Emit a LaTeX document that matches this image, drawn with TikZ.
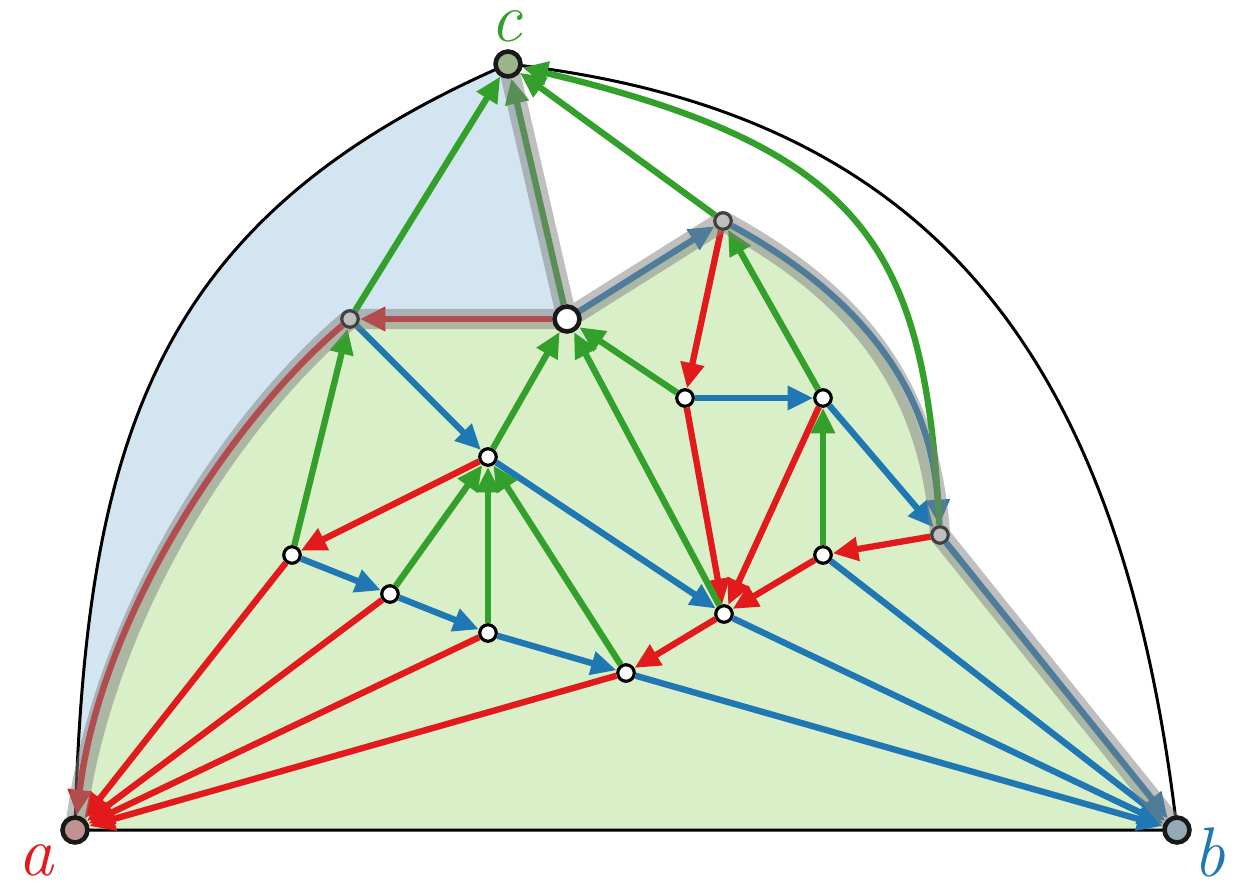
\documentclass[tikz,border=0pt]{standalone}
\usepackage{xcolor}
\usetikzlibrary{arrows.meta,positioning}
\definecolor{cr}{RGB}{227,26,28}
\definecolor{cb}{RGB}{31,120,180}
\definecolor{cg}{RGB}{51,160,44}
\definecolor{fillg}{RGB}{217,239,199}
\definecolor{fillb}{RGB}{210,229,240}
\definecolor{apole}{RGB}{192,146,146}
\definecolor{bpole}{RGB}{148,170,182}
\definecolor{cpole}{RGB}{156,180,138}
\pgfdeclarelayer{back}
\pgfdeclarelayer{shade}
\pgfdeclarelayer{front}
\pgfsetlayers{back,main,shade,front}

\begin{document}
\begin{tikzpicture}[x=0.02cm,y=-0.02cm,>={Triangle[length=14.5pt,width=13pt]},
  vtx/.style={circle,draw=black,fill=white,line width=1.8pt,inner sep=0pt,minimum size=9.4pt},
  pole/.style={circle,draw=black!90,line width=2.6pt,inner sep=0pt,minimum size=14.2pt},
  redarc/.style={draw=cr,line width=3.6pt,->},
  bluearc/.style={draw=cb,line width=3.6pt,->},
  greenarc/.style={draw=cg,line width=3.6pt,->},
  outer/.style={draw=black,line width=1.7pt},
  hl/.style={draw=black!50,opacity=.5,line width=11.5pt,line cap=round,line join=round},
  lbl/.style={font=\fontsize{40}{40}\selectfont\itshape,inner sep=0pt}]
\useasboundingbox (0,0) rectangle (1243,885);

% outer triangle and inner vertices
\begin{pgfonlayer}{front}
\node[pole,fill=apole] (a) at (75,830) {};
\node[pole,fill=bpole] (b) at (1177,830) {};
\node[pole,fill=cpole] (c) at (508,64) {};
\node[pole,fill=white] (v) at (567,319) {};
\end{pgfonlayer}
\node[vtx] (p1) at (350,319) {};
\node[vtx] (p2) at (723,221) {};
\node[vtx] (p3) at (940,535) {};
\node[vtx] (w1) at (488,457) {};
\node[vtx] (w2) at (292,555) {};
\node[vtx] (w3) at (390,594) {};
\node[vtx] (w4) at (488,633) {};
\node[vtx] (w5) at (626,673) {};
\node[vtx] (w6) at (724,614) {};
\node[vtx] (w7) at (823,555) {};
\node[vtx] (w8) at (685,398) {};
\node[vtx] (w9) at (823,398) {};

\node[lbl,text=cr] (la) at (36,860) {a};
\node[lbl,text=cb] (lb) at (1209,852) {b};
\node[lbl,text=cg] (lc) at (506,26) {c};

% regions
\begin{pgfonlayer}{back}
\fill[fillb] (a.center) .. controls (85,430) and (160,215) .. (c.center) -- (v.center) -- (p1.center)
  .. controls (230,420) and (100,620) .. (a.center) -- cycle;
\fill[fillg] (a.center) .. controls (100,620) and (230,420) .. (p1.center) -- (v.center) -- (p2.center)
  .. controls (850,290) and (930,380) .. (p3.center) -- (b.center) -- cycle;
\draw[outer] (a.center) .. controls (85,430) and (160,215) .. (c.center)
  .. controls (920,110) and (1120,340) .. (b.center) -- cycle;
\end{pgfonlayer}

% red tree
\draw[redarc] (p1) .. controls (230,420) and (100,620) .. (a);
\foreach \s/\t in {w2/a,w3/a,w4/a,w5/a,w1/w2,v/p1,w6/w5,w7/w6,w8/w6,w9/w6,p2/w8,p3/w7}
  \draw[redarc] (\s) -- (\t);
% blue tree
\draw[bluearc] (p2) .. controls (850,290) and (930,380) .. (p3);
\foreach \s/\t in {p1/w1,w1/w6,w2/w3,w3/w4,w4/w5,w5/b,w6/b,w7/b,w8/w9,w9/p3,v/p2,p3/b}
  \draw[bluearc] (\s) -- (\t);
% green tree
\draw[greenarc] (p3) .. controls (925,250) and (870,150) .. (c);
\foreach \s/\t in {p1/c,v/c,p2/c,w2/p1,w1/v,w6/v,w8/v,w9/p2,w7/w9,w3/w1,w4/w1,w5/w1}
  \draw[greenarc] (\s) -- (\t);

% separating path
\begin{pgfonlayer}{shade}
\draw[hl] (a.center) .. controls (100,620) and (230,420) .. (p1.center) -- (v.center) -- (c.center)
  (v.center) -- (p2.center) .. controls (850,290) and (930,380) .. (p3.center) -- (b.center);
\end{pgfonlayer}
\end{tikzpicture}
\end{document}
